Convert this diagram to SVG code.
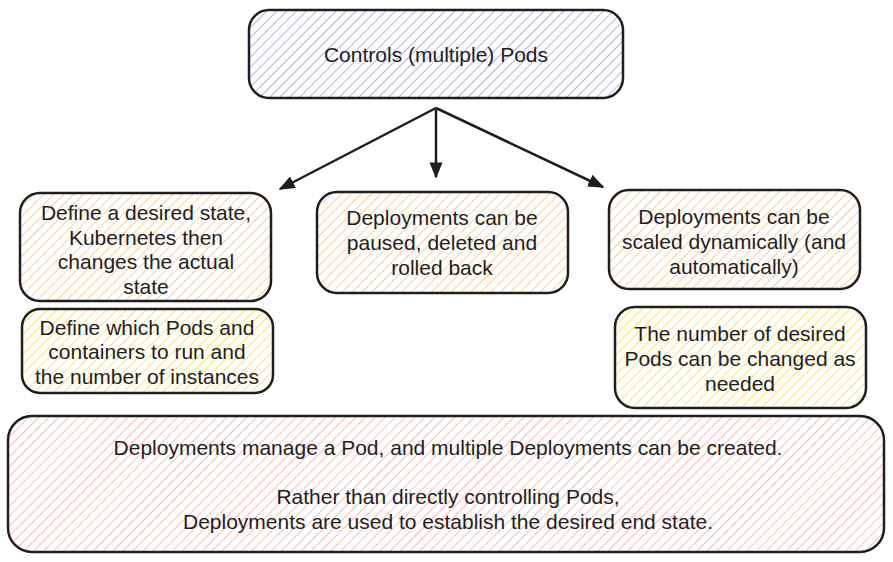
<svg xmlns="http://www.w3.org/2000/svg" width="893" height="562" viewBox="0 0 893 562">
<defs>
<pattern id="hP" width="7" height="7" patternUnits="userSpaceOnUse" patternTransform="rotate(45)"><rect width="7" height="7" fill="#ffffff"/><line x1="0" y1="0" x2="0" y2="7" stroke="#a398f0" stroke-width="1.6"/></pattern>
<pattern id="hO" width="7" height="7" patternUnits="userSpaceOnUse" patternTransform="rotate(45)"><rect width="7" height="7" fill="#ffffff"/><line x1="0" y1="0" x2="0" y2="7" stroke="#ffbf80" stroke-width="1.6"/></pattern>
<pattern id="hY" width="7" height="7" patternUnits="userSpaceOnUse" patternTransform="rotate(45)"><rect width="7" height="7" fill="#ffffff"/><line x1="0" y1="0" x2="0" y2="7" stroke="#ffd84d" stroke-width="1.6"/></pattern>
<pattern id="hR" width="7" height="7" patternUnits="userSpaceOnUse" patternTransform="rotate(45)"><rect width="7" height="7" fill="#ffffff"/><line x1="0" y1="0" x2="0" y2="7" stroke="#ffa6a6" stroke-width="1.6"/></pattern>
<marker id="arr" viewBox="0 0 10 10" refX="9" refY="5" markerWidth="6.5" markerHeight="6.5" orient="auto" markerUnits="strokeWidth"><path d="M0,1 L10,5 L0,9 Z" fill="#1e1e1e"/></marker>
</defs>
<style>
.box{stroke:#1e1e1e;stroke-width:2.5;}
.t{font-family:"Liberation Sans",Arial,sans-serif;font-size:21px;fill:#1e1e1e;text-anchor:middle;dominant-baseline:central;}
.c{stroke:#1e1e1e;stroke-width:2.5;fill:none;}
</style>
<rect width="893" height="562" fill="#ffffff"/>
<g id="top">
<rect class="box" x="249" y="10" width="374" height="88" rx="20" fill="url(#hP)"/>
<text class="t" x="436" y="54">Controls (multiple) Pods</text>
</g>
<g id="connectors">
<line class="c" x1="436" y1="108" x2="280" y2="189" marker-end="url(#arr)"/>
<line class="c" x1="436" y1="108" x2="436" y2="177" marker-end="url(#arr)"/>
<line class="c" x1="436" y1="108" x2="603" y2="187" marker-end="url(#arr)"/>
</g>
<g id="left1">
<rect class="box" x="20" y="193" width="251" height="108" rx="20" fill="url(#hO)"/>
<text class="t" x="146" y="212">Define a desired state,</text>
<text class="t" x="146" y="237">Kubernetes then</text>
<text class="t" x="146" y="261">changes the actual</text>
<text class="t" x="146" y="286">state</text>
</g>
<g id="left2">
<rect class="box" x="22" y="309" width="251" height="84" rx="18" fill="url(#hY)"/>
<text class="t" x="147" y="327">Define which Pods and</text>
<text class="t" x="147" y="351">containers to run and</text>
<text class="t" x="147" y="376">the number of instances</text>
</g>
<g id="mid">
<rect class="box" x="317" y="192" width="251" height="101" rx="20" fill="url(#hO)"/>
<text class="t" x="442" y="217">Deployments can be</text>
<text class="t" x="442" y="242">paused, deleted and</text>
<text class="t" x="442" y="267">rolled back</text>
</g>
<g id="right1">
<rect class="box" x="609" y="190" width="251" height="99" rx="20" fill="url(#hO)"/>
<text class="t" x="734" y="216">Deployments can be</text>
<text class="t" x="734" y="241">scaled dynamically (and</text>
<text class="t" x="734" y="266">automatically)</text>
</g>
<g id="right2">
<rect class="box" x="615" y="307" width="251" height="101" rx="20" fill="url(#hY)"/>
<text class="t" x="740" y="333">The number of desired</text>
<text class="t" x="740" y="358">Pods can be changed as</text>
<text class="t" x="740" y="383">needed</text>
</g>
<g id="bottom">
<rect class="box" x="8" y="416" width="876" height="136" rx="24" fill="url(#hR)"/>
<text class="t" x="448" y="447">Deployments manage a Pod, and multiple Deployments can be created.</text>
<text class="t" x="448" y="496">Rather than directly controlling Pods,</text>
<text class="t" x="448" y="521">Deployments are used to establish the desired end state.</text>
</g>
</svg>
